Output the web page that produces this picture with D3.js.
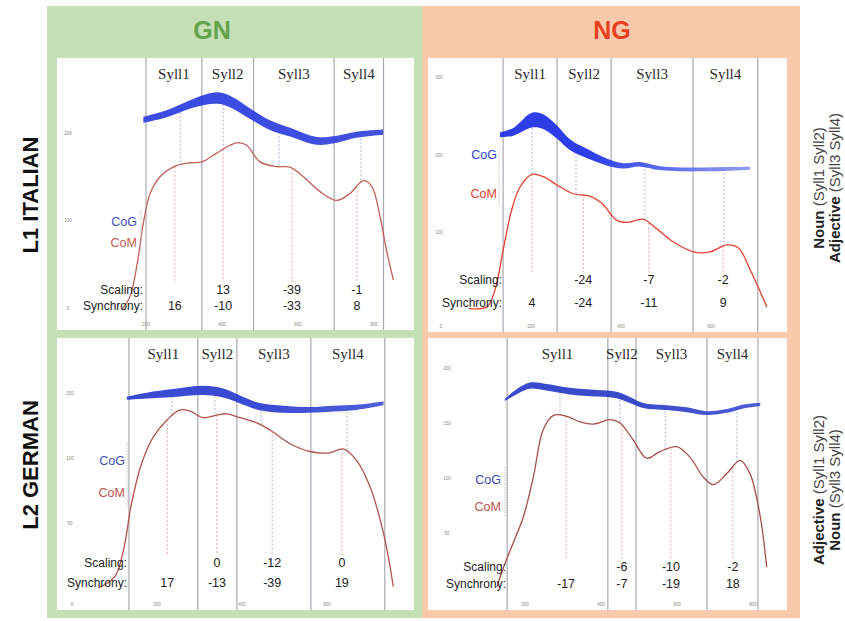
<!DOCTYPE html>
<html><head><meta charset="utf-8">
<script src="https://cdn.jsdelivr.net/npm/d3@7"></script>
<style>body{margin:0;background:#fff}svg{display:block}</style>
</head><body><svg id="c" width="845" height="621"></svg>
<script>
// ================= DATA =================
const columns = ["GN", "NG"];
const rows = ["L1 ITALIAN", "L2 GERMAN"];
const syllLabels = ["Syll1", "Syll2", "Syll3", "Syll4"];
const rowNotes = [
  [["Noun", " (Syll1 Syll2)"], ["Adjective", " (Syll3 Syll4)"]],
  [["Adjective", " (Syll1 Syll2)"], ["Noun", " (Syll3 Syll4)"]]
];
const legendLabels = ["CoG", "CoM"];
const rowTitles = ["Scaling:", "Synchrony:"];

// L1 Italian – GN (time in ms, value)
const tlBounds = [200, 347, 483, 695, 825];
const tlCogT = [193, 254, 324, 386, 421, 474, 526, 579, 649, 702, 754, 824];
const tlCogV = [215, 222, 234, 240, 236, 222, 209, 201, 191, 193, 198, 201];
const tlCogW = [7, 8, 10, 13, 13, 12, 11, 10, 9, 8, 7, 6];
const tlComT = [136, 158, 177, 193, 211, 237, 281, 316, 347, 386, 421, 443, 465, 500, 544, 579, 614, 658, 702, 737, 772, 794, 816, 833, 851];
const tlComV = [-2, 13, 51, 97, 131, 150, 163, 166, 167, 177, 186, 189, 186, 167, 161.5, 161, 150, 133, 123, 131, 145.5, 139, 104, 66, 32];
const tlCogMarks = [290, 403, 550, 766];
const tlComMarks = [276, 403, 584, 755];
const tlScaling = ["", "13", "-39", "-1"];
const tlSynchrony = ["16", "-10", "-33", "8"];
const tlYTicks = [0, 100, 200];
const tlXTicks = [200, 400, 600, 800];

// L1 Italian – NG
const trBounds = [138, 258, 378, 560, 704];
const trCogT = [131, 161, 202, 227, 257, 287, 324, 368, 405, 442, 487, 531, 583, 635, 687];
const trCogV = [226, 230, 245, 243, 230, 213, 202, 191, 186, 188, 183, 181.5, 181.5, 182, 183];
const trCogW = [6, 10, 19, 19, 17, 14, 12, 9, 7, 6, 5, 5, 5, 5, 4];
const trComT = [61, 102, 120, 138, 157, 176, 202, 227, 264, 294, 331, 357, 390, 413, 450, 479, 516, 561, 598, 635, 661, 687, 724];
const trComV = [2, 4, 26, 77, 129, 159, 175, 172, 159, 150, 147, 138, 116, 113, 117, 105, 88, 75, 75, 84, 80, 52, 4];
const trCogMarks = [202, 300, 453, 629];
const trComMarks = [202, 316, 462, 627];
const trScaling = ["", "-24", "-7", "-2"];
const trSynchrony = ["4", "-24", "-11", "9"];
const trYTicks = [100, 200, 300];
const trXTicks = [0, 200, 400, 600];

// L2 German – GN
const blBounds = [134, 296, 388, 562, 736];
const blCogT = [129, 176, 238, 309, 356, 403, 442, 497, 560, 615, 670, 733];
const blCogV = [146, 148, 150, 152, 150, 144, 139.5, 137.5, 137, 138, 139, 142];
const blCogW = [2.5, 4.5, 6, 7, 7, 6, 5.5, 5.5, 4.5, 4.5, 4, 3];
const blComT = [62, 101, 121, 140, 164, 191, 223, 254, 278, 309, 340, 364, 395, 435, 466, 513, 560, 607, 638, 670, 701, 733, 756];
const blComV = [0, 9, 29, 65, 96, 116, 129, 137, 136, 131, 133, 134, 131, 127, 121.5, 111, 105, 104, 107, 98, 78, 42, 1];
const blCogMarks = [235, 336, 445, 647];
const blComMarks = [224, 341, 471, 635];
const blScaling = ["", "0", "-12", "0"];
const blSynchrony = ["17", "-13", "-39", "19"];
const blYTicks = [50, 100, 150];
const blXTicks = [0, 200, 400, 600];

// L2 German – NG
const brBounds = [153, 418, 492, 679, 813];
const brCogT = [147, 178, 213, 257, 318, 389, 441, 476, 511, 573, 626, 678, 731, 775, 819];
const brCogV = [171, 178.5, 184, 182.5, 179, 177, 175.5, 171, 166, 164, 162, 159, 161, 165, 167];
const brCogW = [2, 4.5, 5.5, 6, 6, 6, 6, 5.5, 4.5, 4.5, 4.5, 3.5, 3.5, 3.5, 3];
const brComT = [126, 147, 169, 196, 222, 248, 275, 310, 345, 380, 424, 450, 485, 520, 555, 599, 634, 669, 696, 731, 766, 792, 819, 836];
const brComV = [1, 22, 41, 65, 101, 144, 157, 156, 151, 149, 153, 150, 134.5, 118, 124, 128.5, 119, 101, 94, 104, 116, 104, 65, 19];
const brCogMarks = [292, 450, 569, 758];
const brComMarks = [308, 455, 584, 747];
const brScaling = ["", "-6", "-10", "-2"];
const brSynchrony = ["-17", "-7", "-19", "18"];
const brYTicks = [50, 100, 150, 200];
const brXTicks = [200, 400, 600, 800];

// ================= LAYOUT / STYLE =================
const panels = [
  { box: [57, 58, 414, 330], x0: 70, kx: 0.38, y0: 308, ky: 0.875, scaleY: 290, syncY: 306, labelX: 143,
    cogLab: [137, 222], comLab: [137, 243], bar: [141, 210, 252],
    bounds: tlBounds, cogT: tlCogT, cogV: tlCogV, cogW: tlCogW, comT: tlComT, comV: tlComV,
    cogMarks: tlCogMarks, comMarks: tlComMarks, scaling: tlScaling, sync: tlSynchrony, yt: tlYTicks, xt: tlXTicks,
    band: ["#2c3de0", "#3444dc"], com: "#c0625a", cogTxt: "#3d4fc4", comTxt: "#c4584f" },
  { box: [428, 58, 787, 332], x0: 441, kx: 0.45, y0: 310, ky: 0.775, scaleY: 280, syncY: 303, labelX: 502,
    cogLab: [497, 155], comLab: [497, 194], bar: [499, 150, 207],
    bounds: trBounds, cogT: trCogT, cogV: trCogV, cogW: trCogW, comT: trComT, comV: trComV,
    cogMarks: trCogMarks, comMarks: trComMarks, scaling: trScaling, sync: trSynchrony, yt: trYTicks, xt: trXTicks,
    band: ["#1a2ee8", "#8a96ee"], com: "#e8402f", cogTxt: "#2f45dc", comTxt: "#e0402f" },
  { box: [57, 338, 414, 610], x0: 72, kx: 0.425, y0: 588, ky: 1.3, scaleY: 563, syncY: 583, labelX: 127,
    cogLab: [125, 461], comLab: [125, 493], bar: [127, 443, 507],
    bounds: blBounds, cogT: blCogT, cogV: blCogV, cogW: blCogW, comT: blComT, comV: blComV,
    cogMarks: blCogMarks, comMarks: blComMarks, scaling: blScaling, sync: blSynchrony, yt: blYTicks, xt: blXTicks,
    band: ["#2a3ad0", "#4252d8"], com: "#b0544c", cogTxt: "#3a4cb8", comTxt: "#c0504a" },
  { box: [428, 338, 787, 610], x0: 449, kx: 0.38, y0: 588, ky: 1.1, scaleY: 567, syncY: 584, labelX: 506,
    cogLab: [501, 480], comLab: [501, 507], bar: [505, 467, 517],
    bounds: brBounds, cogT: brCogT, cogV: brCogV, cogW: brCogW, comT: brComT, comV: brComV,
    cogMarks: brCogMarks, comMarks: brComMarks, scaling: brScaling, sync: brSynchrony, yt: brYTicks, xt: brXTicks,
    band: ["#2a3ac8", "#3f50d4"], com: "#a64e48", cogTxt: "#3a4cb8", comTxt: "#b8504a" }
];

const svg = d3.select("#c");
const defs = svg.append("defs");
defs.append("filter").attr("id", "soft").append("feGaussianBlur").attr("stdDeviation", 0.6);

// column backgrounds
svg.append("rect").attr("x", 47).attr("y", 6).attr("width", 375).attr("height", 612).attr("fill", "#c6e0b5");
svg.append("rect").attr("x", 422).attr("y", 6).attr("width", 378).attr("height", 612).attr("fill", "#f8caab");

// column headers
const headColors = ["#64a34a", "#e8401f"];
[212, 612].forEach((cx, i) => {
  svg.append("text").attr("x", cx).attr("y", 30).attr("text-anchor", "middle").attr("dominant-baseline", "central")
    .attr("font-family", "'Liberation Sans Narrow','Liberation Sans',Arial,sans-serif").attr("font-weight", "bold")
    .attr("font-size", 25).attr("fill", headColors[i]).text(columns[i]);
});

// row titles
[195, 465].forEach((cy, i) => {
  svg.append("text").attr("transform", `translate(30,${cy}) rotate(-90)`).attr("text-anchor", "middle")
    .attr("dominant-baseline", "central").attr("font-family", "'Liberation Sans',Arial,sans-serif")
    .attr("font-weight", "bold").attr("font-size", 22).attr("fill", "#111").text(rows[i]);
});

// right notes
[188, 490].forEach((cy, r) => {
  rowNotes[r].forEach((ln, j) => {
    const t = svg.append("text").attr("transform", `translate(${818 + j * 16},${cy}) rotate(-90)`)
      .attr("text-anchor", "middle").attr("dominant-baseline", "central")
      .attr("font-family", "'Liberation Sans',Arial,sans-serif").attr("font-size", 15).attr("fill", "#222");
    t.append("tspan").attr("font-weight", "bold").text(ln[0]);
    t.append("tspan").attr("fill", "#444").text(ln[1]);
  });
});

function interp(T, V, t) {
  for (let i = 0; i < T.length - 1; i++) {
    if (t >= T[i] && t <= T[i + 1]) return V[i] + (V[i + 1] - V[i]) * (t - T[i]) / (T[i + 1] - T[i]);
  }
  return t < T[0] ? V[0] : V[V.length - 1];
}

panels.forEach((p, pi) => {
  const [bx0, by0, bx1, by1] = p.box;
  const x = d3.scaleLinear().domain([0, 1000]).range([p.x0, p.x0 + 1000 * p.kx]);
  const y = d3.scaleLinear().domain([0, 100]).range([p.y0, p.y0 - 100 * p.ky]);
  const g = svg.append("g");
  g.append("rect").attr("x", bx0).attr("y", by0).attr("width", bx1 - bx0).attr("height", by1 - by0).attr("fill", "#fff");

  const cid = "clip" + pi;
  defs.append("clipPath").attr("id", cid).append("rect").attr("x", bx0).attr("y", by0).attr("width", bx1 - bx0).attr("height", by1 - by0);
  const gc = g.append("g").attr("clip-path", `url(#${cid})`);

  // tick labels (tiny)
  p.yt.forEach(v => gc.append("text").attr("x", p.x0 - 2).attr("y", y(v)).attr("text-anchor", "middle")
    .attr("dominant-baseline", "central").attr("font-size", 4.5).attr("fill", "#888").attr("font-family", "Arial").text(v));
  p.xt.forEach(v => gc.append("text").attr("x", x(v)).attr("y", p.y0 + 16).attr("text-anchor", "middle")
    .attr("dominant-baseline", "central").attr("font-size", 4.5).attr("fill", "#888").attr("font-family", "Arial").text(v));

  // syllable boundaries
  gc.selectAll("line.b").data(p.bounds).join("line").attr("class", "b")
    .attr("x1", d => x(d)).attr("x2", d => x(d)).attr("y1", by0).attr("y2", by1)
    .attr("stroke", "#a8a8b2").attr("stroke-width", 1.2);

  // syllable labels
  syllLabels.forEach((s, i) => {
    gc.append("text").attr("x", (x(p.bounds[i]) + x(p.bounds[i + 1])) / 2).attr("y", by0 + 16)
      .attr("text-anchor", "middle").attr("dominant-baseline", "central")
      .attr("font-family", "'Liberation Serif','Times New Roman',serif").attr("font-size", 15).attr("fill", "#2a2a2a").text(s);
  });

  // blue dashed (CoG -> CoM)
  p.cogMarks.forEach(t => {
    gc.append("line").attr("x1", x(t)).attr("x2", x(t))
      .attr("y1", y(interp(p.cogT, p.cogV, t))).attr("y2", y(interp(p.comT, p.comV, t)))
      .attr("stroke", "#9fa6d6").attr("stroke-width", 0.9).attr("stroke-dasharray", "2,2");
  });
  // red dashed (CoM -> labels)
  p.comMarks.forEach(t => {
    gc.append("line").attr("x1", x(t)).attr("x2", x(t))
      .attr("y1", y(interp(p.comT, p.comV, t))).attr("y2", p.scaleY - 8)
      .attr("stroke", "#e59a9a").attr("stroke-width", 0.9).attr("stroke-dasharray", "2,2");
  });

  // CoG band
  const gid = "grad" + pi;
  const gr = defs.append("linearGradient").attr("id", gid).attr("gradientUnits", "userSpaceOnUse")
    .attr("x1", x(p.cogT[0])).attr("x2", x(p.cogT[p.cogT.length - 1])).attr("y1", 0).attr("y2", 0);
  gr.append("stop").attr("offset", "0%").attr("stop-color", p.band[0]);
  gr.append("stop").attr("offset", pi === 1 ? "35%" : "50%").attr("stop-color", p.band[0]);
  gr.append("stop").attr("offset", "100%").attr("stop-color", p.band[1]);
  const idx = d3.range(p.cogT.length);
  const area = d3.area().curve(d3.curveCatmullRom)
    .x(i => x(p.cogT[i])).y0(i => y(p.cogV[i] - p.cogW[i] / 2)).y1(i => y(p.cogV[i] + p.cogW[i] / 2));
  gc.append("path").attr("d", area(idx)).attr("fill", `url(#${gid})`).attr("opacity", 0.92).attr("filter", "url(#soft)");

  // CoM line
  const line = d3.line().curve(d3.curveCatmullRom).x(i => x(p.comT[i])).y(i => y(p.comV[i]));
  gc.append("path").attr("d", line(d3.range(p.comT.length))).attr("fill", "none")
    .attr("stroke", p.com).attr("stroke-width", 1.3);

  // legend labels
  gc.append("line").attr("x1", p.bar[0]).attr("x2", p.bar[0]).attr("y1", p.bar[1]).attr("y2", p.bar[2])
    .attr("stroke", "#bbb").attr("stroke-width", 0.8).attr("stroke-dasharray", "1.5,1");
  gc.append("text").attr("x", p.cogLab[0]).attr("y", p.cogLab[1]).attr("text-anchor", "end").attr("dominant-baseline", "central")
    .attr("font-family", "'Liberation Sans',Arial,sans-serif").attr("font-size", 12.5).attr("fill", p.cogTxt).text(legendLabels[0]);
  gc.append("text").attr("x", p.comLab[0]).attr("y", p.comLab[1]).attr("text-anchor", "end").attr("dominant-baseline", "central")
    .attr("font-family", "'Liberation Sans',Arial,sans-serif").attr("font-size", 12.5).attr("fill", p.comTxt).text(legendLabels[1]);

  // Scaling / Synchrony rows
  [p.scaleY, p.syncY].forEach((ry, r) => {
    gc.append("text").attr("x", p.labelX).attr("y", ry).attr("text-anchor", "end").attr("dominant-baseline", "central")
      .attr("font-family", "'Liberation Sans',Arial,sans-serif").attr("font-size", 12).attr("fill", "#222").text(rowTitles[r]);
    const vals = r === 0 ? p.scaling : p.sync;
    vals.forEach((v, i) => {
      gc.append("text").attr("x", x(p.comMarks[i])).attr("y", ry).attr("text-anchor", "middle").attr("dominant-baseline", "central")
        .attr("font-family", "'Liberation Sans',Arial,sans-serif").attr("font-size", 12.5).attr("fill", "#222").text(v);
    });
  });
});
</script></body></html>
